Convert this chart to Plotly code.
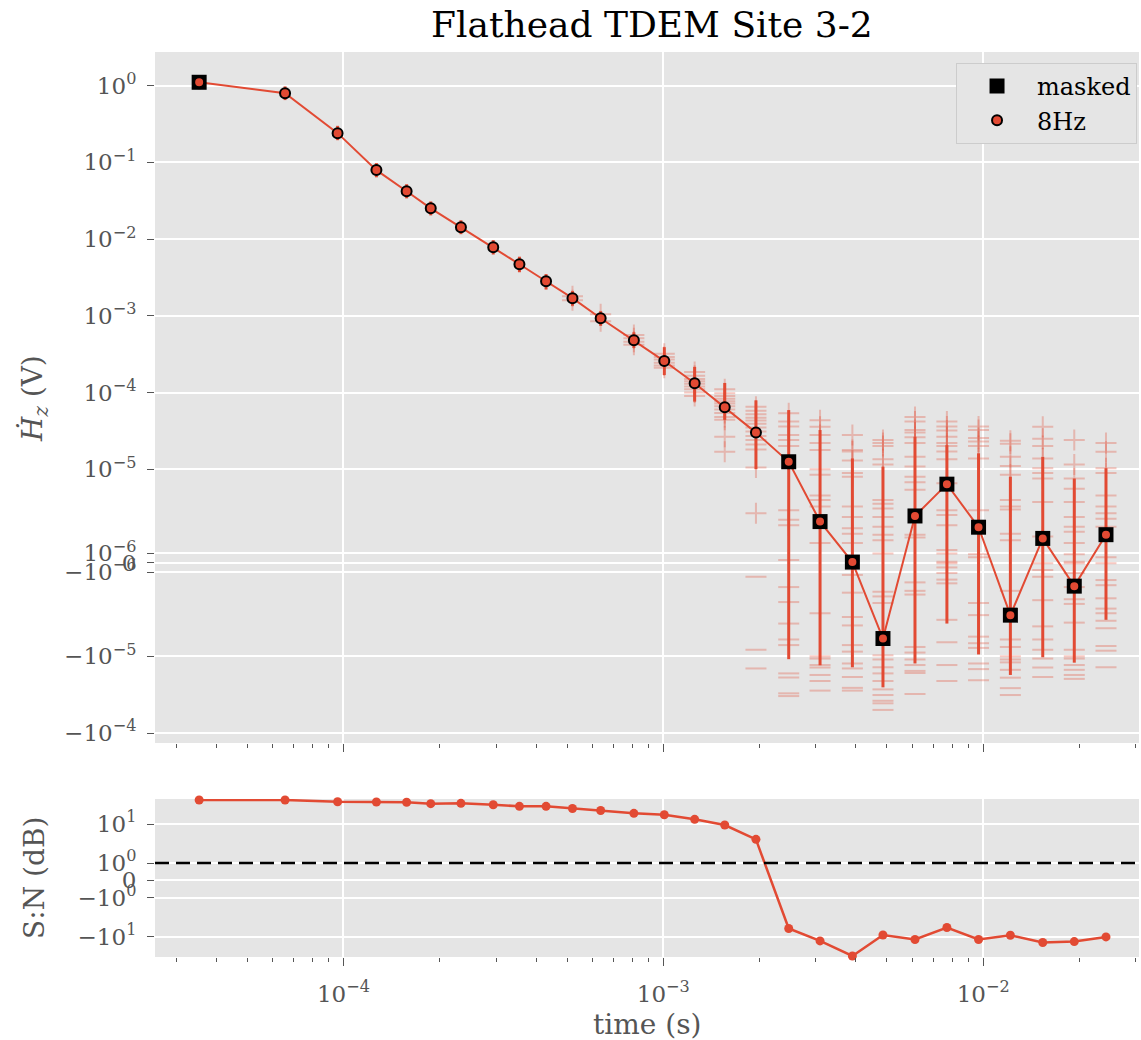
import numpy as np
import plotly.graph_objects as go

# ---------------------------------------------------------------- data
# gate centre times (s)
times = [3.54e-5, 6.57e-5, 9.59e-5, 1.268e-4, 1.576e-4, 1.875e-4, 2.33e-4,
         2.94e-4, 3.55e-4, 4.30e-4, 5.20e-4, 6.37e-4, 8.09e-4, 1.007e-3,
         1.253e-3, 1.556e-3, 1.948e-3, 2.466e-3, 3.09e-3, 3.90e-3, 4.86e-3,
         6.12e-3, 7.70e-3, 9.67e-3, 1.216e-2, 1.535e-2, 1.926e-2, 2.42e-2]

# stacked dHz/dt (V)
hz = [1.11, 0.80, 0.241, 0.0794, 0.0421, 0.0252, 0.01426, 0.00782, 0.0047,
      0.00282, 0.0017, 9.3e-4, 4.8e-4, 2.57e-4, 1.32e-4, 6.4e-5, 3.0e-5,
      1.25e-5, 4.4e-6, 7e-8, -8.1e-6, 5.0e-6, 8.4e-6, 3.8e-6, -5.6e-6,
      2.6e-6, -2.5e-6, 3.0e-6]

# upper / lower extent of the error bars (V)
hz_hi = [1.37, 0.98, 0.30, 0.098, 0.052, 0.031, 0.0176, 0.0097, 0.0059,
         0.0035, 0.0021, 1.15e-3, 6.1e-4, 3.9e-4, 2.16e-4, 1.33e-4, 7.9e-5,
         5.9e-5, 3.24e-5, 1.38e-5, 1.08e-5, 2.65e-5, 2.06e-5, 1.61e-5,
         9.2e-6, 1.45e-5, 9.0e-6, 1.03e-5]
hz_lo = [0.90, 0.65, 0.195, 0.064, 0.034, 0.0204, 0.0116, 0.0063, 0.0037,
         0.0022, 0.00135, 7.4e-4, 3.8e-4, 1.69e-4, 7.6e-5, 4.4e-5, 1.0e-5,
         -1.09e-5, -1.31e-5, -1.39e-5, -2.54e-5, -1.24e-5, -6.5e-6, -9.8e-6,
         -1.75e-5, -1.03e-5, -1.21e-5, -6.1e-6]

# gates flagged as masked
masked = [True] + [False] * 16 + [True] * 11

# individual stack values per gate (V)
stacks = [
    [], [], [], [], [], [], [], [], [], [],
    [1.8e-3, 1.6e-3],
    [1.05e-3, 8.5e-4],
    [5.6e-4, 5.1e-4, 4.6e-4, 4.2e-4],
    [3.2e-4, 2.9e-4, 2.7e-4, 2.45e-4, 2.25e-4, 2.1e-4],
    [1.85e-4, 1.65e-4, 1.5e-4, 1.4e-4, 1.3e-4, 1.2e-4, 1.1e-4, 1.0e-4, 9.0e-5],
    [1.1e-4, 9.8e-5, 9.0e-5, 8.3e-5, 7.7e-5, 7.2e-5, 6.6e-5, 6.0e-5, 5.4e-5,
     4.8e-5, 4.4e-5, 2.65e-5, 1.69e-5],
    [6.5e-5, 5.8e-5, 5.2e-5, 4.7e-5, 4.3e-5, 3.9e-5, 3.5e-5, 3.1e-5, 2.7e-5,
     2.4e-5, 2.1e-5, 1.8e-5, 1.05e-5, 5.3e-6, -1.5e-6, -9.3e-6, -1.44e-5],
    [5.35e-5, 4.2e-5, 3.6e-5, 2.8e-5, 2.4e-5, 2.0e-5, 5.6e-6, 4.6e-6, 4.0e-6,
     3e-7, -2.6e-6, -4.2e-6, -6.5e-6, -8.2e-6, -8.8e-6, -1.67e-5, -1.89e-5,
     -3.04e-5, -3.3e-5],
    [4.35e-5, 3.57e-5, 2.8e-5, 2.2e-5, 1.78e-5, 1.0e-5, 9.4e-6, 7.2e-6, 6.7e-6,
     6.0e-6, 2.1e-6, -5.4e-6, -1.0e-5, -1.07e-5, -1.3e-5, -1.4e-5, -1.75e-5,
     -2.1e-5, -2.8e-5],
    [2.8e-5, 1.78e-5, 1.7e-5, 1.3e-5, 9.6e-6, 9.2e-6, 6.0e-6, 4.9e-6, 3.7e-6,
     3.1e-6, 2.1e-6, -1.3e-6, -3.2e-6, -5.8e-6, -6.7e-6, -8.8e-6, -9.5e-6,
     -1.24e-5, -1.44e-5, -1.86e-5, -2.58e-5, -2.8e-5],
    [2.4e-5, 2.2e-5, 2.0e-5, 1.35e-5, 1.15e-5, 6.7e-6, 6.3e-6, 5.8e-6, 4.9e-6,
     3.85e-6, 3.0e-6, 2.4e-6, 1.0e-6, -3.1e-6, -3.6e-6, -4.3e-6, -9.9e-6,
     -1.1e-5, -1.39e-5, -1.67e-5, -2.1e-5, -2.7e-5, -3.2e-5, -3.8e-5, -4.1e-5,
     -5.0e-5],
    [4.8e-5, 4.2e-5, 3.25e-5, 3.0e-5, 2.6e-5, 2.2e-5, 1.45e-5, 1.08e-5, 9.2e-6,
     8.6e-6, 7.8e-6, 3.0e-6, 2.7e-6, -2.1e-6, -3.0e-6, -3.4e-6, -9.0e-6,
     -9.6e-6, -1.1e-5, -1.3e-5, -1.55e-5, -1.65e-5, -3.1e-5],
    [4.2e-5, 3.6e-5, 3.2e-5, 2.65e-5, 2.2e-5, 2.0e-5, 1.7e-5, 1.35e-5, 8.5e-6,
     5.6e-6, 5.1e-6, 4.0e-6, 1.35e-6, 1.0e-6, 1e-7, -5e-8, -5e-7, -1.1e-6,
     -1.8e-6, -2.2e-6, -6.1e-6, -8.5e-6, -1.3e-5, -2.1e-5],
    [3.6e-5, 3.25e-5, 2.55e-5, 2.3e-5, 2.0e-5, 1.38e-5, 5.6e-6, 9e-7, 6e-7,
     -4.3e-6, -5.6e-6, -7.9e-6, -8.6e-6, -9.1e-6, -1.24e-5, -1.47e-5, -2.05e-5],
    [2.35e-5, 2.15e-5, 1.45e-5, 1.1e-5, 9.4e-6, 6.7e-6, 6.0e-6, 5.7e-6, 3.1e-6,
     2.4e-6, -3.0e-6, -8.2e-6, -9.0e-6, -1.0e-5, -1.1e-5, -1.2e-5, -1.5e-5,
     -1.9e-5, -2.6e-5, -3.2e-5],
    [3.57e-5, 2.5e-5, 2.0e-5, 1.38e-5, 1.03e-5, 9.6e-6, 9.0e-6, 6.5e-6, 2.8e-6,
     -5e-8, -7.8e-7, -1.5e-6, -4.0e-6, -6.8e-6, -8.2e-6, -9.3e-6, -1.07e-5,
     -1.4e-5, -1.86e-5],
    [2.4e-5, 1.15e-5, 9.0e-6, 7.9e-6, 6.5e-6, 4.9e-6, 3.85e-6, 3.3e-6, 2.1e-6,
     9e-7, 1e-7, -5e-8, -1.1e-6, -2.6e-6, -3.9e-6, -4.4e-6, -6.4e-6, -9.3e-6,
     -1.0e-5, -1.07e-5, -1.3e-5, -1.5e-5, -1.75e-5, -1.97e-5],
    [2.2e-5, 1.69e-5, 1.03e-5, 9.6e-6, 7.2e-6, 6.0e-6, 5.3e-6, 4.7e-6, 3.85e-6,
     6e-7, -5e-8, -1.85e-6, -2.4e-6, -3.8e-6, -4.9e-6, -5.4e-6, -6.2e-6,
     -7.0e-6, -8.9e-6, -9.4e-6, -1.39e-5],
]

# signal-to-noise ratio per gate (dB)
snr = [41.2, 41.2, 37.3, 36.7, 36.0, 33.2, 33.9, 31.2, 28.4, 28.4, 25.0, 22.2,
       18.8, 17.3, 13.2, 9.43, 4.05, -6.13, -12.7, -30.9, -8.94, -11.7, -5.77,
       -11.7, -9.1, -14.0, -13.2, -10.05]

hz_ticks = [1.0, 1e-1, 1e-2, 1e-3, 1e-4, 1e-5, 1e-6, 0.0, -1e-6, -1e-5, -1e-4]
hz_ticktext = ["10<sup>0</sup>", "10<sup>−1</sup>", "10<sup>−2</sup>",
               "10<sup>−3</sup>", "10<sup>−4</sup>", "10<sup>−5</sup>",
               "10<sup>−6</sup>", "0", "−10<sup>−6</sup>", "−10<sup>−5</sup>",
               "−10<sup>−4</sup>"]
snr_ticks = [10.0, 1.0, 0.0, -1.0, -10.0]
snr_ticktext = ["10<sup>1</sup>", "10<sup>0</sup>", "0", "−10<sup>0</sup>",
                "−10<sup>1</sup>"]
time_ticks = [1e-4, 1e-3, 1e-2]
time_ticktext = ["10<sup>−4</sup>", "10<sup>−3</sup>", "10<sup>−2</sup>"]


# ---------------------------------------------------------------- scales
def symlog(v, thresh, lin_decades):
    """Symmetric log: log10 outside +-thresh, linear inside it."""
    v = np.asarray(v, dtype=float)
    a = np.abs(v)
    outer = np.sign(v) * (lin_decades + np.log10(np.maximum(a, thresh) / thresh))
    inner = lin_decades * v / thresh
    return np.where(a >= thresh, outer, inner)


def hz_scale(v):
    return symlog(v, 1e-5, 1.22)


def snr_scale(v):
    return symlog(v, 1.0, 0.444)


RED = "#E24A33"
FAINT = "rgba(226,74,51,0.3)"
GREY_TXT = "#555555"
FONT = "DejaVu Serif"

t = np.array(times)
y_hz = hz_scale(hz)
err_up = hz_scale(hz_hi) - y_hz
err_dn = y_hz - hz_scale(hz_lo)
is_masked = np.array(masked)

pos_x, pos_y, neg_x, neg_y = [], [], [], []
for ti, vals in zip(times, stacks):
    for v in vals:
        if v >= 0:
            pos_x.append(ti)
            pos_y.append(v)
        else:
            neg_x.append(ti)
            neg_y.append(v)

fig = go.Figure()

# individual stacks (faint)
fig.add_trace(go.Scatter(
    x=pos_x, y=hz_scale(pos_y), mode="markers", showlegend=False,
    hoverinfo="skip", xaxis="x", yaxis="y",
    marker=dict(symbol="cross-thin", size=15, color=FAINT,
                line=dict(width=2, color=FAINT))))
fig.add_trace(go.Scatter(
    x=neg_x, y=hz_scale(neg_y), mode="markers", showlegend=False,
    hoverinfo="skip", xaxis="x", yaxis="y",
    marker=dict(symbol="line-ew", size=15, color=FAINT,
                line=dict(width=2, color=FAINT))))

# error bars
fig.add_trace(go.Scatter(
    x=t, y=y_hz, mode="markers", showlegend=False, hoverinfo="skip",
    xaxis="x", yaxis="y", marker=dict(size=1, color="rgba(0,0,0,0)"),
    error_y=dict(type="data", symmetric=False, array=err_up,
                 arrayminus=err_dn, color=RED, thickness=3, width=0)))

# connecting line
fig.add_trace(go.Scatter(
    x=t, y=y_hz, mode="lines", showlegend=False, hoverinfo="skip",
    xaxis="x", yaxis="y", line=dict(color=RED, width=2)))

# masked gates
fig.add_trace(go.Scatter(
    x=t[is_masked], y=y_hz[is_masked], mode="markers", name="masked",
    xaxis="x", yaxis="y", legendrank=1,
    marker=dict(symbol="square", size=15, color="black",
                line=dict(width=0))))

# gate values
fig.add_trace(go.Scatter(
    x=t, y=y_hz, mode="markers", name="8Hz", xaxis="x", yaxis="y",
    legendrank=2,
    marker=dict(symbol="circle", size=10, color=RED,
                line=dict(width=2, color="black"))))

# signal-to-noise panel
fig.add_trace(go.Scatter(
    x=t, y=snr_scale(snr), mode="lines+markers", showlegend=False,
    xaxis="x2", yaxis="y2", cliponaxis=False,
    line=dict(color=RED, width=2.5), marker=dict(size=9, color=RED)))

minor_vals = [m * 10.0 ** e for e in range(-5, -1) for m in range(2, 10)]

common_x = dict(
    type="log", range=[-4.589, -1.513], showline=False, zeroline=False,
    gridcolor="white", gridwidth=1.8, ticks="outside", ticklen=8,
    tickcolor=GREY_TXT, tickwidth=1.3, tickvals=time_ticks,
    minor=dict(tickvals=minor_vals, ticks="outside", ticklen=4,
               tickcolor=GREY_TXT, tickwidth=1.3, showgrid=False),
)
common_y = dict(
    showline=False, zeroline=False, gridcolor="white", gridwidth=1.8,
    ticks="outside", ticklen=7, tickcolor=GREY_TXT, tickwidth=1.3,
    tickfont=dict(size=23, color=GREY_TXT, family=FONT),
    ticklabelstandoff=6,
)

fig.update_layout(
    width=1141, height=1040,
    margin=dict(l=155, r=2, t=52, b=83),
    paper_bgcolor="white", plot_bgcolor="#E5E5E5",
    font=dict(family=FONT, color=GREY_TXT, size=23),
    title=dict(text="Flathead TDEM Site 3-2", x=0.505, xref="paper",
               xanchor="center", y=1 - 24 / 1040, yref="container",
               yanchor="middle", font=dict(size=36, color="black",
                                           family=FONT)),
    xaxis=dict(common_x, domain=[0, 1], anchor="y", showticklabels=False),
    xaxis2=dict(common_x, domain=[0, 1], anchor="y2", matches="x",
                ticktext=time_ticktext,
                tickfont=dict(size=23, color=GREY_TXT, family=FONT),
                ticklabelstandoff=8),
    yaxis=dict(common_y, domain=[0.2365, 1], anchor="x",
               range=[-2.35, 6.66], tickvals=hz_scale(hz_ticks),
               ticktext=hz_ticktext),
    yaxis2=dict(common_y, domain=[0, 0.1746], anchor="x2",
                range=[-1.96, 2.085], tickvals=snr_scale(snr_ticks),
                ticktext=snr_ticktext),
    legend=dict(x=0.998, y=0.988, xanchor="right", yanchor="top",
                bgcolor="#E5E5E5", bordercolor="#CCCCCC", borderwidth=1,
                font=dict(size=24, color="black", family=FONT),
                itemwidth=70),
    showlegend=True,
)

# threshold line at S:N = 1
fig.add_shape(type="line", xref="x2 domain", yref="y2", x0=0, x1=1,
              y0=float(snr_scale(1.0)), y1=float(snr_scale(1.0)),
              line=dict(color="black", width=2.5, dash="14px,7px"))

# axis titles
fig.add_annotation(text="<i>H\u0307</i><sub><i>z</i></sub> (V)",
                   xref="paper", yref="paper", x=-0.122, y=0.6177,
                   textangle=-90, showarrow=False, xanchor="center",
                   yanchor="middle", font=dict(size=28, color=GREY_TXT))
fig.add_annotation(text="S:N (dB)", xref="paper", yref="paper",
                   x=-0.122, y=0.0873, textangle=-90, showarrow=False,
                   xanchor="center", yanchor="middle",
                   font=dict(size=28, color=GREY_TXT))
fig.add_annotation(text="time (s)", xref="paper", yref="paper",
                   x=0.5, y=-0.0745, showarrow=False, xanchor="center",
                   yanchor="middle", font=dict(size=28, color=GREY_TXT))

fig.write_html("out.html")
